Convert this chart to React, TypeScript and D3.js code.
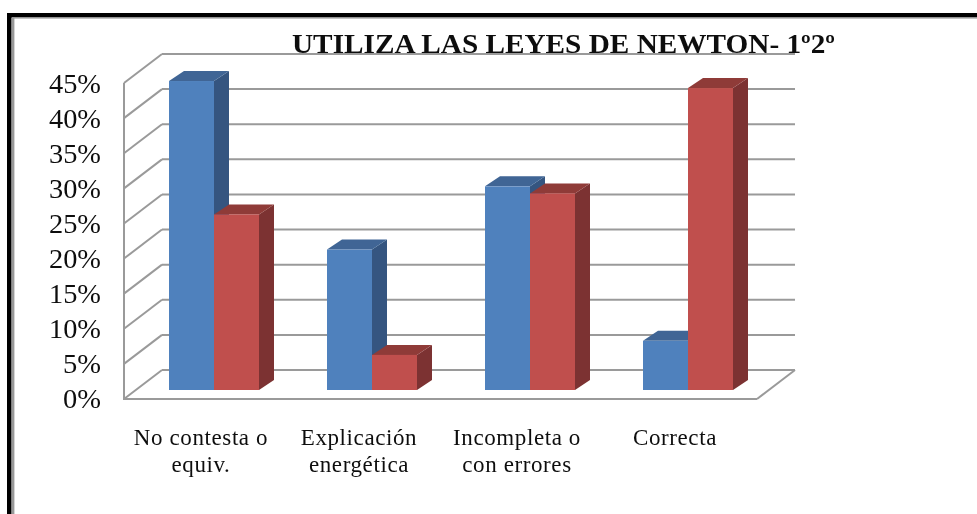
import React from "react";
import * as d3 from "d3";

const categories: string[][] = [
  ["No contesta o", "equiv."],
  ["Explicación", "energética"],
  ["Incompleta o", "con errores"],
  ["Correcta"],
];
const seriesBlue = [44, 20, 29, 7];
const seriesRed = [25, 5, 28, 43];
const ticks = [0, 5, 10, 15, 20, 25, 30, 35, 40, 45];
const titleText = "UTILIZA LAS LEYES DE NEWTON- 1º2º";

const W = 977;
const H = 514;
const frontLeft = 124;
const frontRight = 757;
const depthX = 38;
const depthY = 29;
const y = d3.scaleLinear().domain([0, 45]).range([399, 83]);
const groups = d3.scaleBand<number>().domain([0, 1, 2, 3]).range([frontLeft + 11, frontLeft + 11 + 632]).paddingInner(0);
const barW = 45;
const barDx = 15;
const barDy = 10;
const barBase = 390;
const barOffset = 34;
const barY = (v: number) => barBase - (y(0) - y(v));
const serif = "'Liberation Serif', 'Times New Roman', serif";

function Bar({ x, v, front, side, top }: { x: number; v: number; front: string; side: string; top: string }) {
  const t = barY(v);
  const pts = (p: number[][]) => p.map((q) => q.join(",")).join(" ");
  return (
    <g>
      <polygon points={pts([[x + barW, t], [x + barW + barDx, t - barDy], [x + barW + barDx, barBase - barDy], [x + barW, barBase]])} fill={side} />
      <polygon points={pts([[x, t], [x + barDx, t - barDy], [x + barW + barDx, t - barDy], [x + barW, t]])} fill={top} />
      <rect x={x} y={t} width={barW} height={barBase - t} fill={front} />
    </g>
  );
}

export default function App() {
  return (
    <svg
      width={W}
      height={H}
      viewBox={`0 0 ${W} ${H}`}
      style={{ position: "absolute", left: 0, top: 0, background: "#fff" }}
    >
      <defs>
        <filter id="soft" x="-2%" y="-2%" width="104%" height="104%">
          <feGaussianBlur stdDeviation="0.45" />
        </filter>
      </defs>
      <g filter="url(#soft)">
        {/* page frame */}
        <rect x={7} y={13} width={W} height={4.5} fill="#000" />
        <rect x={7} y={13} width={4.5} height={H} fill="#000" />
        <rect x={12} y={17.5} width={W} height={1.2} fill="#aaa" />
        <rect x={12} y={17.5} width={2.4} height={H} fill="#999" />

        {/* walls and gridlines */}
        <g stroke="#9a9a9a" strokeWidth={2} fill="none">
          {ticks.map((t) => (
            <g key={t}>
              <line x1={frontRight + depthX} x2={frontLeft + depthX} y1={y(t) - depthY} y2={y(t) - depthY} />
              <line x1={frontLeft + depthX} x2={frontLeft} y1={y(t) - depthY} y2={y(t)} />
            </g>
          ))}
          <line x1={frontLeft} x2={frontLeft} y1={y(45)} y2={y(0)} />
          <line x1={frontLeft - 1} x2={frontRight} y1={y(0)} y2={y(0)} />
          <line x1={frontRight} x2={frontRight + depthX} y1={y(0)} y2={y(0) - depthY} />
        </g>

        {/* bars */}
        {categories.map((_, i) => {
          const x0 = (groups(i) as number) + barOffset;
          return (
            <g key={i}>
              <Bar x={x0} v={seriesBlue[i]} front="#4F81BD" side="#345580" top="#3F6595" />
              <Bar x={x0 + barW} v={seriesRed[i]} front="#C0504D" side="#7B3230" top="#8F3B39" />
            </g>
          );
        })}

        {/* y axis labels */}
        {ticks.map((t) => (
          <text
            key={t}
            x={101}
            y={y(t) + 9 + t * 0.03}
            textAnchor="end"
            fontFamily={serif}
            fontSize={27}
            fill="#111"
            textLength={t < 10 ? 38 : 52}
            lengthAdjust="spacingAndGlyphs"
          >
            {t}%
          </text>
        ))}

        {/* category labels */}
        {categories.map((lines, i) => {
          const cx = (groups(i) as number) + 66;
          return (
            <text key={i} fontFamily={serif} fontSize={23} fill="#111" textAnchor="middle" letterSpacing={0.6}>
              {lines.map((l, j) => (
                <tspan key={j} x={cx} y={445 + j * 27}>
                  {l}
                </tspan>
              ))}
            </text>
          );
        })}

        {/* title */}
        <text x={292} y={52.5} fontFamily={serif} fontWeight={700} fontSize={27} fill="#111" textLength={543} lengthAdjust="spacingAndGlyphs">
          {titleText}
        </text>
      </g>
    </svg>
  );
}
